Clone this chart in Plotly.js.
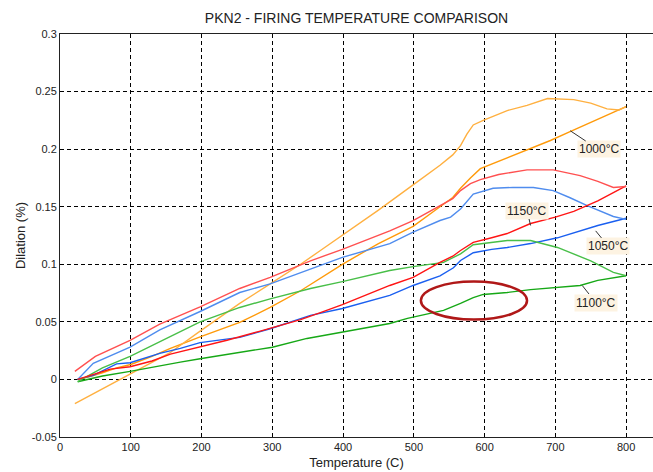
<!DOCTYPE html>
<html>
<head>
<meta charset="utf-8">
<script src="https://cdn.plot.ly/plotly-3.0.1.min.js"></script>
<style>html,body{margin:0;padding:0;background:#fff;}#chart{width:653px;height:472px;}</style>
</head>
<body>
<div id="chart"></div>
<script>
// ---- data ----
const seriesNames = ["1000°C heating", "1000°C cooling", "1050°C heating", "1050°C cooling",
                     "1100°C heating", "1100°C cooling", "1150°C heating", "1150°C cooling"];

const orangeHeatX = [25, 40, 61, 80, 100, 130, 156, 198, 254, 297, 340, 368, 399, 450, 499, 537, 555, 566, 580, 594, 610, 632, 660, 693, 720, 750, 775, 800];
const orangeHeatY = [0.000, 0.002, 0.006, 0.010, 0.013, 0.020, 0.027, 0.037, 0.0495, 0.0625, 0.077, 0.0877, 0.100, 0.118, 0.133, 0.150, 0.158, 0.166, 0.175, 0.183, 0.187, 0.192, 0.199, 0.2075, 0.215, 0.223, 0.230, 0.237];

const orangeCoolX = [21, 57, 99, 155, 198, 254, 297, 340, 368, 406, 450, 499, 537, 555, 566, 575, 584, 598, 632, 660, 689, 726, 750, 773, 790, 800];
const orangeCoolY = [-0.021, -0.009, 0.005, 0.023, 0.042, 0.066, 0.083, 0.100, 0.112, 0.128, 0.147, 0.169, 0.186, 0.195, 0.203, 0.213, 0.221, 0.225, 0.2335, 0.238, 0.244, 0.243, 0.240, 0.235, 0.234, 0.237];

const blueHeatX = [25, 47, 80, 99, 141, 170, 198, 254, 297, 354, 399, 466, 499, 537, 556, 566, 584, 610, 632, 665, 703, 730, 760, 800];
const blueHeatY = [0.000, 0.0035, 0.0135, 0.0145, 0.0226, 0.027, 0.032, 0.0365, 0.044, 0.0556, 0.0616, 0.073, 0.0816, 0.090, 0.097, 0.1033, 0.110, 0.113, 0.1146, 0.118, 0.123, 0.128, 0.1337, 0.140];

const blueCoolX = [25, 47, 99, 141, 198, 254, 297, 354, 399, 466, 499, 537, 552, 566, 575, 584, 612, 640, 669, 697, 720, 745, 782, 800];
const blueCoolY = [0.000, 0.0140, 0.028, 0.043, 0.059, 0.0755, 0.083, 0.096, 0.106, 0.118, 0.128, 0.138, 0.141, 0.148, 0.155, 0.161, 0.166, 0.1668, 0.1667, 0.164, 0.158, 0.151, 0.1415, 0.139];

const greenHeatX = [25, 60, 99, 141, 170, 198, 250, 300, 349, 399, 466, 491, 542, 566, 584, 598, 632, 665, 703, 735, 760, 800];
const greenHeatY = [-0.002, 0.003, 0.007, 0.012, 0.015, 0.018, 0.023, 0.028, 0.0356, 0.041, 0.0486, 0.053, 0.060, 0.066, 0.071, 0.0738, 0.0755, 0.078, 0.080, 0.0816, 0.086, 0.090];

const greenCoolX = [25, 60, 99, 141, 198, 254, 297, 354, 399, 466, 499, 542, 566, 584, 610, 632, 665, 703, 750, 782, 800];
const greenCoolY = [-0.002, 0.010, 0.020, 0.033, 0.050, 0.0625, 0.070, 0.079, 0.085, 0.0946, 0.098, 0.1016, 0.109, 0.117, 0.119, 0.1207, 0.1207, 0.1146, 0.103, 0.093, 0.090];

const redHeatX = [25, 45, 71, 99, 130, 156, 198, 236, 283, 340, 368, 399, 466, 499, 537, 555, 566, 584, 610, 632, 665, 700, 726, 760, 800];
const redHeatY = [0.000, 0.004, 0.009, 0.011, 0.016, 0.022, 0.028, 0.034, 0.042, 0.052, 0.058, 0.065, 0.0816, 0.0886, 0.1016, 0.107, 0.112, 0.119, 0.123, 0.1267, 0.1354, 0.141, 0.146, 0.155, 0.168];

const redCoolX = [21, 50, 99, 141, 198, 254, 297, 354, 399, 466, 499, 537, 555, 566, 580, 594, 620, 660, 697, 735, 760, 782, 800];
const redCoolY = [0.007, 0.020, 0.034, 0.048, 0.063, 0.079, 0.0886, 0.103, 0.113, 0.129, 0.138, 0.151, 0.157, 0.164, 0.170, 0.1736, 0.178, 0.182, 0.182, 0.177, 0.172, 0.1667, 0.1675];

const xTickVals = [0, 100, 200, 300, 400, 500, 600, 700, 800];
const xTickText = ["0", "100", "200", "300", "400", "500", "600", "700", "800"];
const yTickVals = [-0.05, 0, 0.05, 0.1, 0.15, 0.2, 0.25, 0.3];
const yTickText = ["-0.05", "0", "0.05", "0.1", "0.15", "0.2", "0.25", "0.3"];

const labelTexts = ["1000°C", "1150°C", "1050°C", "1100°C"];
const labelX  = [761, 660, 775, 757];
const labelY  = [0.1997, 0.1467, 0.1155, 0.0668];
const labelTipX = [721, 665, 757, 738];
const labelTipY = [0.216, 0.1337, 0.129, 0.0816];

// ---- styles ----
const FONT = '"Liberation Sans", Arial, sans-serif';
function line(x, y, color, name) {
  return {x: x, y: y, type: 'scatter', mode: 'lines', name: name,
          line: {color: color, width: 1.4}, hoverinfo: 'skip'};
}
const traces = [
  line(orangeHeatX, orangeHeatY, '#ff9a0a', seriesNames[0]),
  line(orangeCoolX, orangeCoolY, '#ffb040', seriesNames[1]),
  line(blueHeatX, blueHeatY, '#1a5ff0', seriesNames[2]),
  line(blueCoolX, blueCoolY, '#4f8cee', seriesNames[3]),
  line(greenHeatX, greenHeatY, '#16a816', seriesNames[4]),
  line(greenCoolX, greenCoolY, '#48bf48', seriesNames[5]),
  line(redHeatX, redHeatY, '#ff1414', seriesNames[6]),
  line(redCoolX, redCoolY, '#ff5050', seriesNames[7])
];

const annotations = labelTexts.map((t, i) => ({
  x: labelTipX[i], y: labelTipY[i], xref: 'x', yref: 'y',
  ax: labelX[i], ay: labelY[i], axref: 'x', ayref: 'y',
  text: t, showarrow: true, arrowhead: 0, arrowwidth: 1, arrowcolor: '#333',
  bgcolor: '#fdf3e2', borderpad: 1,
  font: {family: FONT, size: 12, color: '#222'}
}));

const layout = {
  width: 653, height: 472,
  margin: {l: 60, r: 0, t: 34, b: 35},
  paper_bgcolor: '#fff', plot_bgcolor: '#fff',
  showlegend: false,
  font: {family: FONT, size: 11, color: '#222'},
  title: {text: 'PKN2 - FIRING TEMPERATURE COMPARISON', font: {family: FONT, size: 14, color: '#222'},
          x: 0.546, xanchor: 'center', y: 0.962, yanchor: 'middle', yref: 'container'},
  xaxis: {range: [0, 838], tickvals: xTickVals, ticktext: xTickText, ticks: '',
          showgrid: true, gridcolor: '#000', gridwidth: 1, griddash: '4px,3px',
          zeroline: false, showline: true, linecolor: '#222', linewidth: 1, mirror: true,
          tickfont: {family: FONT, size: 11, color: '#222'},
          title: {text: 'Temperature (C)', font: {family: FONT, size: 13, color: '#222'}, standoff: 5}},
  yaxis: {range: [-0.05, 0.3], tickvals: yTickVals, ticktext: yTickText, ticks: '',
          showgrid: true, gridcolor: '#000', gridwidth: 1, griddash: '4px,3px',
          zeroline: false, showline: true, linecolor: '#222', linewidth: 1,
          tickfont: {family: FONT, size: 11, color: '#222'},
          title: {text: 'Dilation (%)', font: {family: FONT, size: 13, color: '#222'}, standoff: 3}},
  shapes: [{type: 'circle', xref: 'x', yref: 'y', x0: 510, x1: 660, y0: 0.052, y1: 0.085,
            line: {color: '#b01818', width: 2.5}}],
  annotations: annotations
};

Plotly.newPlot('chart', traces, layout, {staticPlot: true, displayModeBar: false});
</script>
</body>
</html>
